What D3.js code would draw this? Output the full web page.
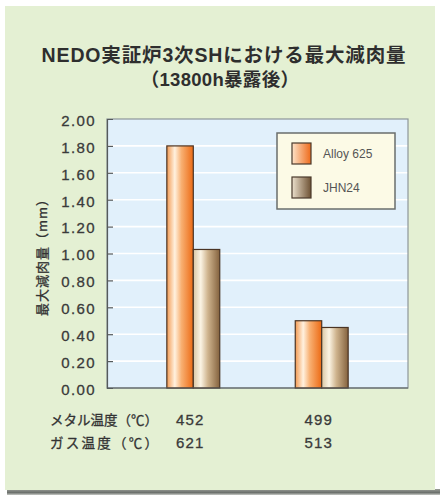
<!DOCTYPE html>
<html>
<head>
<meta charset="utf-8">
<script src="https://cdn.jsdelivr.net/npm/d3@7"></script>
<style>
  html, body { margin: 0; padding: 0; background: #ffffff; }
  svg { display: block; }
</style>
</head>
<body>
<script>
// Maximum wall thinning of SH tubes after 13800 h exposure
const groups = ["452/621", "499/513"];
const series = ["Alloy 625", "JHN24"];
const alloy625 = [1.80, 0.50];
const jhn24 = [1.03, 0.45];
const metalTemp = ["452", "499"];
const gasTemp = ["621", "513"];
const yTicks = [0, 0.2, 0.4, 0.6, 0.8, 1.0, 1.2, 1.4, 1.6, 1.8, 2.0];

const W = 440, H = 497;
const plot = { left: 107, right: 408, top: 119, bottom: 388 };

const svg = d3.select("body").append("svg").attr("width", W).attr("height", H);
const defs = svg.append("defs");

function hGrad(id, stops) {
  const g = defs.append("linearGradient").attr("id", id)
    .attr("x1", "0%").attr("y1", "0%").attr("x2", "100%").attr("y2", "0%");
  stops.forEach(s => g.append("stop").attr("offset", s[0]).attr("stop-color", s[1]));
}
hGrad("barA", [["0%", "#f39a52"], ["30%", "#fff1df"], ["55%", "#f8b072"], ["100%", "#ec6a14"]]);
hGrad("barB", [["0%", "#d9c6a4"], ["28%", "#fbf4e4"], ["55%", "#cfb48e"], ["100%", "#84623e"]]);
hGrad("swA", [["0%", "#fde3c8"], ["100%", "#ee6a1a"]]);
hGrad("swB", [["0%", "#ebe0cc"], ["100%", "#6e5234"]]);
const shadow = defs.append("linearGradient").attr("id", "shadow")
  .attr("x1", "0%").attr("y1", "0%").attr("x2", "0%").attr("y2", "100%");
shadow.append("stop").attr("offset", "0%").attr("stop-color", "#9a9e98");
shadow.append("stop").attr("offset", "60%").attr("stop-color", "#6c706c");
shadow.append("stop").attr("offset", "100%").attr("stop-color", "#c8cac6");

// panel with drop shadow along the bottom
svg.append("rect").attr("x", 7).attr("y", 489).attr("width", 433).attr("height", 6)
  .attr("fill", "url(#shadow)");
svg.append("rect").attr("x", 5).attr("y", 6).attr("width", 430).attr("height", 484)
  .attr("fill", "#e4f0d3");

// two-line title
const jp = "'Noto Sans CJK JP', 'Noto Sans', sans-serif";
const mixed = "'Liberation Sans', 'Noto Sans CJK JP', sans-serif";
const title = svg.append("text").attr("font-family", mixed).attr("font-weight", "bold")
  .attr("fill", "#2e2e2e").attr("text-anchor", "middle");
title.append("tspan").attr("x", 224).attr("y", 62)
  .attr("font-size", 19.5).attr("letter-spacing", 0.85).text("NEDO実証炉3次SHにおける最大減肉量");
title.append("tspan").attr("x", 220).attr("y", 86)
  .attr("font-size", 18.5).attr("letter-spacing", 0.3).text("（13800h暴露後）");

// scales
const y = d3.scaleLinear().domain([0, 2]).range([plot.bottom, plot.top]);
const x0 = d3.scaleBand().domain(groups).range([plot.left, plot.right])
  .paddingInner(0.588).paddingOuter(0.466);
const x1 = d3.scaleBand().domain(series).range([0, x0.bandwidth()]);

// plot area
svg.append("rect").attr("x", plot.left).attr("y", plot.top)
  .attr("width", plot.right - plot.left).attr("height", plot.bottom - plot.top)
  .attr("fill", "#e1f0fb");

// white gridlines
svg.append("g").selectAll("line").data(yTicks.slice(1, -1)).join("line")
  .attr("x1", plot.left).attr("x2", plot.right)
  .attr("y1", d => y(d)).attr("y2", d => y(d))
  .attr("stroke", "#ffffff").attr("stroke-width", 1.6);

// frame
svg.append("rect").attr("x", plot.left).attr("y", plot.top)
  .attr("width", plot.right - plot.left).attr("height", plot.bottom - plot.top)
  .attr("fill", "none").attr("stroke", "#8e9699").attr("stroke-width", 1.2);

// y axis with inward ticks
const yAxis = d3.axisLeft(y).tickValues(yTicks).tickSize(-6).tickPadding(10)
  .tickFormat(d3.format(".2f"));
const ya = svg.append("g").attr("transform", `translate(${plot.left},0)`).call(yAxis);
ya.select(".domain").attr("stroke", "#555a5c").attr("stroke-width", 1.2);
ya.selectAll(".tick line").attr("stroke", "#555a5c").attr("stroke-width", 1.2)
  .filter(d => d === 0 || d === 2).remove();
ya.selectAll(".tick text").attr("font-family", "'Liberation Sans', Arial, sans-serif")
  .attr("font-size", 15).attr("letter-spacing", 1.4).attr("fill", "#3a3a3a")
  .attr("stroke", "#3a3a3a").attr("stroke-width", 0.3)
  .attr("dy", "0.42em").attr("x", -11);

// bars
const rows = groups.map((g, i) => ({ group: g, values: [alloy625[i], jhn24[i]] }));
const fills = ["url(#barA)", "url(#barB)"];
svg.append("g").selectAll("g").data(rows).join("g")
  .attr("transform", d => `translate(${x0(d.group)},0)`)
  .selectAll("rect").data(d => d.values.map((v, j) => ({ s: series[j], v, j })))
  .join("rect")
  .attr("x", d => x1(d.s)).attr("width", x1.bandwidth())
  .attr("y", d => y(d.v)).attr("height", d => y(0) - y(d.v))
  .attr("fill", d => fills[d.j])
  .attr("stroke", "#4a3424").attr("stroke-width", 1.2);

// bottom axis line
svg.append("line").attr("x1", plot.left).attr("x2", plot.right)
  .attr("y1", plot.bottom).attr("y2", plot.bottom)
  .attr("stroke", "#555a5c").attr("stroke-width", 1.2);

// y axis title
svg.append("text").attr("transform", "translate(41,254) rotate(-90)")
  .attr("text-anchor", "middle").attr("dominant-baseline", "central")
  .attr("font-family", jp).attr("font-size", 13).attr("letter-spacing", 1)
  .attr("fill", "#333333").attr("stroke", "#333333").attr("stroke-width", 0.3)
  .text("最大減肉量（mm）");

// temperature rows under the axis
const rowLabels = ["メタル温度（℃）", "ガス温度（℃）"];
const rowValues = [metalTemp, gasTemp];
const rowY = [419, 442];
rowLabels.forEach((lab, r) => {
  svg.append("text").attr("x", 50).attr("y", rowY[r]).attr("dominant-baseline", "central")
    .attr("font-family", jp).attr("font-size", 13.5).attr("fill", "#333333")
    .attr("stroke", "#333333").attr("stroke-width", 0.3)
    .attr("textLength", 108).attr("lengthAdjust", "spacing").text(lab);
  svg.append("g").selectAll("text").data(rowValues[r]).join("text")
    .attr("x", (d, i) => x0(groups[i]) + x0.bandwidth() / 2 - 3)
    .attr("y", rowY[r]).attr("dominant-baseline", "central").attr("text-anchor", "middle")
    .attr("font-family", "'Liberation Sans', Arial, sans-serif").attr("font-size", 15)
    .attr("letter-spacing", 1.2).attr("fill", "#3a3a3a")
    .attr("stroke", "#3a3a3a").attr("stroke-width", 0.3).text(d => d);
});

// legend
const lg = svg.append("g").attr("transform", "translate(277,133)");
lg.append("rect").attr("width", 118).attr("height", 76)
  .attr("fill", "#fcfae6").attr("stroke", "#6a6e6c").attr("stroke-width", 1.5);
const swFills = ["url(#swA)", "url(#swB)"];
series.forEach((s, i) => {
  const g = lg.append("g").attr("transform", `translate(15,${10 + i * 34})`);
  g.append("rect").attr("width", 19).attr("height", 21).attr("fill", swFills[i])
    .attr("stroke", "#4a3a2c").attr("stroke-width", 1.2);
  g.append("text").attr("x", 31).attr("y", 11).attr("dominant-baseline", "central")
    .attr("font-family", "'Liberation Sans', Arial, sans-serif").attr("font-size", 12)
    .attr("fill", "#555555").text(s);
});
</script>
</body>
</html>
